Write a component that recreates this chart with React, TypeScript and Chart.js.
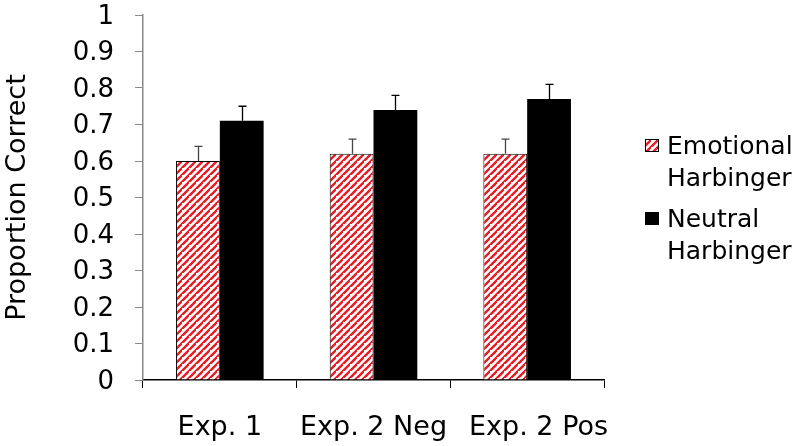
import React, { useEffect, useRef } from "react";
import { Chart, registerables } from "chart.js";

Chart.register(...registerables);

const categories = ["Exp. 1", "Exp. 2 Neg", "Exp. 2 Pos"];
const emotionalValues = [0.6, 0.62, 0.62];
const emotionalErr = [0.04, 0.04, 0.04];
const neutralValues = [0.71, 0.74, 0.77];
const neutralErr = [0.04, 0.04, 0.04];
const yTicks = [0, 0.1, 0.2, 0.3, 0.4, 0.5, 0.6, 0.7, 0.8, 0.9, 1];
const legendLabels = [
  ["Emotional", "Harbinger"],
  ["Neutral", "Harbinger"],
];

const FONT = "'DejaVu Sans', Verdana, sans-serif";
const RED = "rgb(232,28,36)";

function makePattern(): CanvasPattern | string {
  const s = 7;
  const c = document.createElement("canvas");
  c.width = s;
  c.height = s;
  const ctx = c.getContext("2d");
  if (!ctx) return RED;
  ctx.fillStyle = "#fff";
  ctx.fillRect(0, 0, s, s);
  ctx.strokeStyle = RED;
  ctx.lineWidth = 2.4;
  ctx.beginPath();
  ctx.moveTo(-s, s * 2);
  ctx.lineTo(s * 2, -s);
  ctx.moveTo(-s * 2, s);
  ctx.lineTo(s, -s * 2);
  ctx.moveTo(0, s * 2);
  ctx.lineTo(s * 2, 0);
  ctx.stroke();
  return ctx.createPattern(c, "repeat") || RED;
}

export default function App() {
  const ref = useRef<HTMLCanvasElement>(null);
  useEffect(() => {
    document.body.style.margin = "0";
    const canvas = ref.current;
    if (!canvas) return;
    const pattern = makePattern();

    const errorBars = {
      id: "errorBars",
      afterDatasetsDraw(chart: any) {
        const ctx = chart.ctx;
        const yScale = chart.scales.y;
        const errs = [emotionalErr, neutralErr];
        ctx.save();
        chart.data.datasets.forEach((ds: any, di: number) => {
          const meta = chart.getDatasetMeta(di);
          meta.data.forEach((bar: any, i: number) => {
            const v = ds.data[i];
            const top = yScale.getPixelForValue(v + errs[di][i]);
            const base = yScale.getPixelForValue(v);
            const x = Math.round(bar.x) + 0.5;
            ctx.strokeStyle = di === 0 ? "#444" : "#000";
            ctx.lineWidth = 1.3;
            ctx.beginPath();
            ctx.moveTo(x, base);
            ctx.lineTo(x, top);
            ctx.moveTo(x - 4, top);
            ctx.lineTo(x + 4, top);
            ctx.stroke();
          });
        });
        ctx.restore();
      },
    };

    // Category labels drawn with simple collision avoidance (min gap between labels)
    const xLabels = {
      id: "xLabels",
      afterDraw(chart: any) {
        const ctx = chart.ctx;
        const xs = chart.scales.x;
        ctx.save();
        ctx.font = `27px ${FONT}`;
        ctx.fillStyle = "#000";
        ctx.textBaseline = "alphabetic";
        ctx.textAlign = "left";
        let prevRight = -Infinity;
        const minGap = 22;
        categories.forEach((lab, i) => {
          const w = ctx.measureText(lab).width;
          let left = xs.getPixelForTick(i) - w / 2;
          if (left < prevRight + minGap) left = prevRight + minGap;
          ctx.fillText(lab, left, xs.bottom - 11);
          prevRight = left + w;
        });
        ctx.restore();
      },
    };

    const legendPlugin = {
      id: "customLegend",
      afterDraw(chart: any) {
        const ctx = chart.ctx;
        ctx.save();
        ctx.font = `25px ${FONT}`;
        ctx.textBaseline = "middle";
        ctx.textAlign = "left";
        const fills = [pattern, "#000"];
        const ys = [146, 219];
        legendLabels.forEach((lines, idx) => {
          const y = ys[idx];
          ctx.fillStyle = fills[idx] as any;
          ctx.fillRect(645, y - 7, 14, 13);
          ctx.strokeStyle = "#000";
          ctx.lineWidth = 1;
          ctx.strokeRect(645.5, y - 6.5, 13, 12);
          ctx.fillStyle = "#000";
          lines.forEach((l, k) => ctx.fillText(l, 667, y + 1 + k * 32));
        });
        ctx.restore();
      },
    };

    const chart = new Chart(canvas, {
      type: "bar",
      data: {
        labels: categories,
        datasets: [
          {
            label: "Emotional Harbinger",
            data: emotionalValues,
            backgroundColor: pattern as any,
            borderColor: "#000",
            borderWidth: 1,
            borderSkipped: "bottom",
            categoryPercentage: 0.57,
            barPercentage: 1,
          },
          {
            label: "Neutral Harbinger",
            data: neutralValues,
            backgroundColor: "#000",
            borderColor: "#000",
            borderWidth: 0,
            categoryPercentage: 0.57,
            barPercentage: 1,
          },
        ],
      },
      options: {
        responsive: false,
        animation: false,
        layout: { padding: { top: 15, right: 196, left: 0, bottom: 0 } },
        plugins: { legend: { display: false }, tooltip: { enabled: false } },
        scales: {
          x: {
            afterFit(scale: any) {
              scale.height = 66;
              scale.paddingLeft = 0;
              scale.paddingRight = 0;
            },
            grid: {
              display: true,
              drawOnChartArea: false,
              drawTicks: true,
              tickLength: 8,
              color: "#000",
              offset: true,
            },
            border: { display: true, color: "#000", width: 1.5 },
            ticks: {
              display: true,
              color: "rgba(0,0,0,0)",
              font: { family: FONT, size: 27 },
              padding: 20,
              maxRotation: 0,
              autoSkip: false,
            },
          },
          y: {
            min: 0,
            max: 1,
            afterFit(scale: any) {
              scale.width = 143;
              scale.paddingTop = 0;
              scale.paddingBottom = 0;
            },
            afterBuildTicks(scale: any) {
              scale.ticks = yTicks.map((v) => ({ value: v }));
            },
            grid: {
              display: true,
              drawOnChartArea: false,
              tickLength: 8,
              color: "#888",
            },
            border: { display: true, color: "#888", width: 1.5 },
            ticks: {
              color: "#000",
              font: { family: FONT, size: 26 },
              padding: 21,
              labelOffset: 2,
              callback: (v: any) => String(v),
            },
            title: {
              display: true,
              text: "Proportion Correct",
              color: "#000",
              font: { family: FONT, size: 27 },
              padding: { top: 2, bottom: 0 },
            },
          },
        },
      },
      plugins: [errorBars, xLabels, legendPlugin],
    });
    return () => chart.destroy();
  }, []);
  return (
    <div style={{ width: 800, height: 446 }}>
      <canvas ref={ref} width={800} height={446} />
    </div>
  );
}
